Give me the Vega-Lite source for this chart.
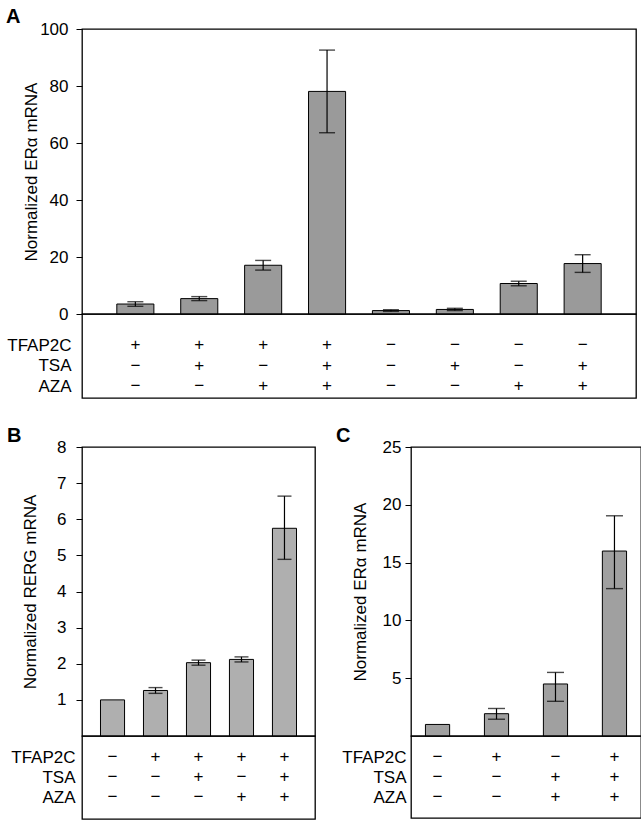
{
  "$schema": "https://vega.github.io/schema/vega-lite/v6.json",
  "background": "white",
  "padding": {"left": 5, "top": 6, "right": 5, "bottom": 5},
  "config": {
    "font": "Liberation Sans",
    "view": {"stroke": "black", "strokeWidth": 1.3},
    "axis": {"labelColor": "black", "titleColor": "black", "tickColor": "black", "labelFontSize": 17, "titleFontSize": 17, "titleFontWeight": "normal", "grid": false, "domain": false},
    "title": {"fontSize": 20, "fontWeight": "bold", "anchor": "start", "frame": "group", "color": "black"}
  },
  "datasets": {
    "A": [
      {"cond": "a1", "value": 3.5, "lo": 2.7, "hi": 4.3, "TFAP2C": "+", "TSA": "−", "AZA": "−"},
      {"cond": "a2", "value": 5.4, "lo": 4.7, "hi": 6.1, "TFAP2C": "+", "TSA": "+", "AZA": "−"},
      {"cond": "a3", "value": 17.1, "lo": 15.4, "hi": 18.8, "TFAP2C": "+", "TSA": "−", "AZA": "+"},
      {"cond": "a4", "value": 78.1, "lo": 63.6, "hi": 92.6, "TFAP2C": "+", "TSA": "+", "AZA": "+"},
      {"cond": "a5", "value": 1.2, "lo": 0.9, "hi": 1.5, "TFAP2C": "−", "TSA": "−", "AZA": "−"},
      {"cond": "a6", "value": 1.6, "lo": 1.2, "hi": 2.0, "TFAP2C": "−", "TSA": "+", "AZA": "−"},
      {"cond": "a7", "value": 10.7, "lo": 9.9, "hi": 11.5, "TFAP2C": "−", "TSA": "−", "AZA": "+"},
      {"cond": "a8", "value": 17.7, "lo": 14.6, "hi": 20.8, "TFAP2C": "−", "TSA": "+", "AZA": "+"}
    ],
    "B": [
      {"cond": "b1", "value": 1.0, "lo": null, "hi": null, "TFAP2C": "−", "TSA": "−", "AZA": "−"},
      {"cond": "b2", "value": 1.26, "lo": 1.18, "hi": 1.34, "TFAP2C": "+", "TSA": "−", "AZA": "−"},
      {"cond": "b3", "value": 2.03, "lo": 1.96, "hi": 2.10, "TFAP2C": "+", "TSA": "+", "AZA": "−"},
      {"cond": "b4", "value": 2.12, "lo": 2.05, "hi": 2.19, "TFAP2C": "+", "TSA": "−", "AZA": "+"},
      {"cond": "b5", "value": 5.75, "lo": 4.89, "hi": 6.64, "TFAP2C": "+", "TSA": "+", "AZA": "+"}
    ],
    "C": [
      {"cond": "c1", "value": 1.0, "lo": null, "hi": null, "TFAP2C": "−", "TSA": "−", "AZA": "−"},
      {"cond": "c2", "value": 1.93, "lo": 1.45, "hi": 2.38, "TFAP2C": "+", "TSA": "−", "AZA": "−"},
      {"cond": "c3", "value": 4.5, "lo": 3.0, "hi": 5.5, "TFAP2C": "−", "TSA": "+", "AZA": "+"},
      {"cond": "c4", "value": 16.0, "lo": 12.75, "hi": 19.05, "TFAP2C": "+", "TSA": "+", "AZA": "+"}
    ]
  },
  "spacing": 26,
  "vconcat": [
    {
      "spacing": 0,
      "bounds": "flush",
      "resolve": {"scale": {"x": "independent", "y": "independent"}},
      "vconcat": [
        {
          "width": 554,
          "height": 285,
          "title": {"text": "A", "dx": -76, "offset": -7},
          "data": {"name": "A"},
          "layer": [
            {
              "mark": {"type": "bar", "fill": "#9a9a9a", "stroke": "black", "strokeWidth": 1},
              "encoding": {
                "x": {"field": "cond", "type": "nominal", "sort": null, "axis": null, "scale": {"paddingInner": 0.42, "paddingOuter": 0.545}},
                "y": {"field": "value", "type": "quantitative", "scale": {"domain": [0, 100], "nice": false},
                  "axis": {"values": [0, 10, 20, 30, 40, 50, 60, 70, 80, 90, 100], "labelExpr": "datum.value % 20 == 0 ? datum.label : ''", "tickSize": 6, "labelPadding": 8, "title": "Normalized ERα mRNA", "titleX": -42, "titleY": 142.5}}
              }
            },
            {
              "transform": [{"filter": "isValid(datum.hi)"}],
              "mark": {"type": "rule", "color": "black", "strokeWidth": 1.2},
              "encoding": {
                "x": {"field": "cond", "type": "nominal", "sort": null},
                "y": {"field": "lo", "type": "quantitative"},
                "y2": {"field": "hi"}
              }
            },
            {
              "transform": [{"filter": "isValid(datum.hi)"}],
              "mark": {"type": "tick", "color": "black", "size": 16, "thickness": 1.4},
              "encoding": {
                "x": {"field": "cond", "type": "nominal", "sort": null},
                "y": {"field": "lo", "type": "quantitative"}
              }
            },
            {
              "transform": [{"filter": "isValid(datum.hi)"}],
              "mark": {"type": "tick", "color": "black", "size": 16, "thickness": 1.4},
              "encoding": {
                "x": {"field": "cond", "type": "nominal", "sort": null},
                "y": {"field": "hi", "type": "quantitative"}
              }
            }
          ]
        },
        {
          "width": 554,
          "height": 84,
          "data": {"name": "A"},
          "transform": [{"fold": ["TFAP2C", "TSA", "AZA"], "as": ["factor", "sign"]}],
          "mark": {"type": "text", "fontSize": 17, "color": "black", "align": "center", "baseline": "middle"},
          "encoding": {
            "x": {"field": "cond", "type": "nominal", "sort": null, "axis": null, "scale": {"type": "band", "paddingInner": 0.42, "paddingOuter": 0.545}},
            "y": {"field": "factor", "type": "nominal", "sort": ["TFAP2C", "TSA", "AZA"], "scale": {"type": "point", "range": [31, 72], "padding": 0},
              "axis": {"title": null, "ticks": false, "labelPadding": 11, "labelFontSize": 17}},
            "text": {"field": "sign"}
          }
        }
      ]
    },
    {
      "spacing": 19,
      "resolve": {"scale": {"x": "independent", "y": "independent"}},
      "hconcat": [
        {
          "spacing": 0,
          "bounds": "flush",
          "resolve": {"scale": {"x": "independent", "y": "independent"}},
          "vconcat": [
            {
              "width": 233,
              "height": 289,
              "title": {"text": "B", "dx": -75, "offset": -8},
              "data": {"name": "B"},
              "layer": [
                {
                  "mark": {"type": "bar", "fill": "#afafaf", "stroke": "black", "strokeWidth": 1},
                  "encoding": {
                    "x": {"field": "cond", "type": "nominal", "sort": null, "axis": null, "scale": {"paddingInner": 0.44, "paddingOuter": 0.43}},
                    "y": {"field": "value", "type": "quantitative", "scale": {"domain": [0, 8], "nice": false},
                      "axis": {"values": [1, 2, 3, 4, 5, 6, 7, 8], "tickSize": 6, "labelPadding": 10, "title": "Normalized RERG mRNA", "titleX": -43, "titleY": 144.5}}
                  }
                },
                {
                  "transform": [{"filter": "isValid(datum.hi)"}],
                  "mark": {"type": "rule", "color": "black", "strokeWidth": 1.2},
                  "encoding": {
                    "x": {"field": "cond", "type": "nominal", "sort": null},
                    "y": {"field": "lo", "type": "quantitative"},
                    "y2": {"field": "hi"}
                  }
                },
                {
                  "transform": [{"filter": "isValid(datum.hi)"}],
                  "mark": {"type": "tick", "color": "black", "size": 14, "thickness": 1.4},
                  "encoding": {
                    "x": {"field": "cond", "type": "nominal", "sort": null},
                    "y": {"field": "lo", "type": "quantitative"}
                  }
                },
                {
                  "transform": [{"filter": "isValid(datum.hi)"}],
                  "mark": {"type": "tick", "color": "black", "size": 14, "thickness": 1.4},
                  "encoding": {
                    "x": {"field": "cond", "type": "nominal", "sort": null},
                    "y": {"field": "hi", "type": "quantitative"}
                  }
                }
              ]
            },
            {
              "width": 233,
              "height": 83,
              "data": {"name": "B"},
              "transform": [{"fold": ["TFAP2C", "TSA", "AZA"], "as": ["factor", "sign"]}],
              "mark": {"type": "text", "fontSize": 17, "color": "black", "align": "center", "baseline": "middle"},
              "encoding": {
                "x": {"field": "cond", "type": "nominal", "sort": null, "axis": null, "scale": {"type": "band", "paddingInner": 0.44, "paddingOuter": 0.43}},
                "y": {"field": "factor", "type": "nominal", "sort": ["TFAP2C", "TSA", "AZA"], "scale": {"type": "point", "range": [21, 61], "padding": 0},
                  "axis": {"title": null, "ticks": false, "labelPadding": 7, "labelFontSize": 17}},
                "text": {"field": "sign"}
              }
            }
          ]
        },
        {
          "spacing": 0,
          "bounds": "flush",
          "resolve": {"scale": {"x": "independent", "y": "independent"}},
          "vconcat": [
            {
              "width": 230,
              "height": 289,
              "title": {"text": "C", "dx": -75, "offset": -8},
              "data": {"name": "C"},
              "layer": [
                {
                  "mark": {"type": "bar", "fill": "#a0a0a0", "stroke": "black", "strokeWidth": 1},
                  "encoding": {
                    "x": {"field": "cond", "type": "nominal", "sort": null, "axis": null, "scale": {"paddingInner": 0.59, "paddingOuter": 0.245}},
                    "y": {"field": "value", "type": "quantitative", "scale": {"domain": [0, 25], "nice": false},
                      "axis": {"values": [5, 10, 15, 20, 25], "tickSize": 6, "labelPadding": 4, "title": "Normalized ERα mRNA", "titleX": -42, "titleY": 144.5}}
                  }
                },
                {
                  "transform": [{"filter": "isValid(datum.hi)"}],
                  "mark": {"type": "rule", "color": "black", "strokeWidth": 1.2},
                  "encoding": {
                    "x": {"field": "cond", "type": "nominal", "sort": null},
                    "y": {"field": "lo", "type": "quantitative"},
                    "y2": {"field": "hi"}
                  }
                },
                {
                  "transform": [{"filter": "isValid(datum.hi)"}],
                  "mark": {"type": "tick", "color": "black", "size": 17, "thickness": 1.4},
                  "encoding": {
                    "x": {"field": "cond", "type": "nominal", "sort": null},
                    "y": {"field": "lo", "type": "quantitative"}
                  }
                },
                {
                  "transform": [{"filter": "isValid(datum.hi)"}],
                  "mark": {"type": "tick", "color": "black", "size": 17, "thickness": 1.4},
                  "encoding": {
                    "x": {"field": "cond", "type": "nominal", "sort": null},
                    "y": {"field": "hi", "type": "quantitative"}
                  }
                }
              ]
            },
            {
              "width": 230,
              "height": 82,
              "data": {"name": "C"},
              "transform": [{"fold": ["TFAP2C", "TSA", "AZA"], "as": ["factor", "sign"]}],
              "mark": {"type": "text", "fontSize": 17, "color": "black", "align": "center", "baseline": "middle"},
              "encoding": {
                "x": {"field": "cond", "type": "nominal", "sort": null, "axis": null, "scale": {"type": "band", "paddingInner": 0.59, "paddingOuter": 0.245}},
                "y": {"field": "factor", "type": "nominal", "sort": ["TFAP2C", "TSA", "AZA"], "scale": {"type": "point", "range": [21, 61], "padding": 0},
                  "axis": {"title": null, "ticks": false, "labelPadding": 5, "labelFontSize": 17}},
                "text": {"field": "sign"}
              }
            }
          ]
        }
      ]
    }
  ]
}
